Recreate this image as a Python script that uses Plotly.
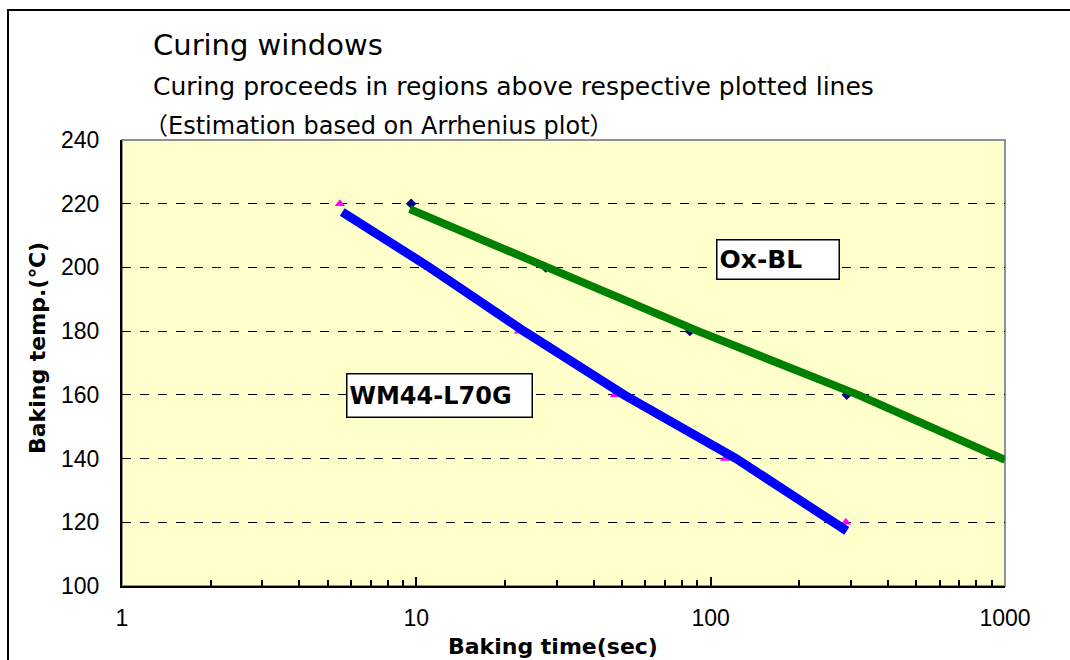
import plotly.graph_objects as go

# Measured points (markers)
wm_time = [5.5, 11.0, 22.3, 47.3, 112, 288]
wm_temp = [220, 200, 180, 160, 140, 120]
ox_time = [9.6, 27.5, 85, 290]
ox_temp = [220, 200, 180, 160]

# Fitted curing-window lines
wm_line_time = [5.6, 11.1, 23.2, 50.8, 122, 290]
wm_line_temp = [217.4, 200, 180, 160, 140, 117.3]
ox_line_time = [9.5, 27.9, 90.6, 317, 1000]
ox_line_temp = [218.3, 200, 180, 160, 139.6]

x_ticks = [1, 10, 100, 1000]
x_ticktext = ["1", "10", "100", "1000"]
y_ticks = [100, 120, 140, 160, 180, 200, 220, 240]

FONT = "DejaVu Sans"
CJK = "Noto Sans CJK JP"
TICKFONT = "Liberation Sans"
W, H = 1070, 660
ML, MR, MT, MB = 122, 65, 140, 74
PW, PH = W - ML - MR, H - MT - MB


def px(p):
    return (p - ML) / PW


def py(q):
    return (H - MB - q) / PH


fig = go.Figure()
fig.add_trace(go.Scatter(x=wm_time, y=wm_temp, mode="markers",
                         marker=dict(symbol="triangle-up", size=9, color="#FF00FF"),
                         showlegend=False))
fig.add_trace(go.Scatter(x=ox_time, y=ox_temp, mode="markers",
                         marker=dict(symbol="diamond", size=8, color="#000080"),
                         showlegend=False))
fig.add_trace(go.Scatter(x=wm_line_time, y=wm_line_temp, mode="lines",
                         line=dict(color="#0000FF", width=9), showlegend=False))
fig.add_trace(go.Scatter(x=ox_line_time, y=ox_line_temp, mode="lines",
                         line=dict(color="#008000", width=8), showlegend=False))

fig.update_layout(
    width=W, height=H,
    margin=dict(l=ML, r=MR, t=MT, b=MB),
    paper_bgcolor="white",
    plot_bgcolor="#FFFFCC",
    font=dict(family=FONT, color="black"),
    showlegend=False,
)
fig.update_xaxes(
    type="log", range=[0, 3],
    tickvals=x_ticks, ticktext=x_ticktext,
    ticks="inside", ticklen=9, tickwidth=1.5, tickcolor="black",
    minor=dict(ticks="inside", ticklen=6, tickwidth=1.5, tickcolor="black", dtick="D1", showgrid=False),
    showgrid=False, showline=True, linecolor="black", linewidth=2,
    tickfont=dict(size=23, family=TICKFONT), ticklabelstandoff=10,
    zeroline=False,
)
fig.update_yaxes(
    range=[100, 240], tickvals=y_ticks,
    ticks="", showgrid=True, gridcolor="black", gridwidth=1, griddash="dash",
    showline=True, linecolor="black", linewidth=2,
    tickfont=dict(size=23, family=TICKFONT), ticklabelstandoff=16,
    zeroline=False,
)

shapes = [
    dict(type="rect", xref="paper", yref="paper", x0=0, x1=1, y0=0, y1=1,
         line=dict(color="#909090", width=2), layer="below"),
    dict(type="rect", xref="paper", yref="paper",
         x0=px(8), x1=px(1080), y0=py(675), y1=py(10),
         line=dict(color="black", width=2)),
]
fig.update_layout(shapes=shapes)

paren_l = f'<span style="font-family:\'{CJK}\'">（</span>'
paren_r = f'<span style="font-family:\'{CJK}\'">）</span>'

annotations = [
    dict(text="Curing windows", x=px(151), y=py(45), xref="paper", yref="paper",
         xanchor="left", yanchor="middle", showarrow=False, font=dict(size=29, family=FONT)),
    dict(text="Curing proceeds in regions above respective plotted lines", x=px(151), y=py(86),
         xref="paper", yref="paper", xanchor="left", yanchor="middle", showarrow=False,
         font=dict(size=25, family=FONT)),
    dict(text=paren_l + "Estimation based on Arrhenius plot" + paren_r, x=px(142), y=py(124),
         xref="paper", yref="paper", xanchor="left", yanchor="middle", showarrow=False,
         font=dict(size=24, family=FONT)),
    dict(text="<b>Baking time(sec)</b>", x=px(553), y=py(646), xref="paper", yref="paper",
         xanchor="center", yanchor="middle", showarrow=False, font=dict(size=22, family=FONT)),
    dict(text="<b>Baking temp.(℃)</b>", x=px(37), y=py(348), xref="paper", yref="paper",
         xanchor="center", yanchor="middle", showarrow=False, textangle=-90,
         font=dict(size=22, family=FONT)),
    dict(text="<b>WM44-L70G</b>", x=px(439), y=py(395.5), xref="paper", yref="paper",
         xanchor="center", yanchor="middle", showarrow=False, width=180, height=38, align="left",
         bgcolor="white", bordercolor="black", borderwidth=1.5, borderpad=2,
         font=dict(size=24, family=FONT)),
    dict(text="<b>Ox-BL</b>", x=px(778), y=py(259), xref="paper", yref="paper",
         xanchor="center", yanchor="middle", showarrow=False, width=117, height=34, align="left",
         bgcolor="white", bordercolor="black", borderwidth=1.5, borderpad=2,
         font=dict(size=25, family=FONT)),
]
fig.update_layout(annotations=annotations)

fig.write_html("out.html")
